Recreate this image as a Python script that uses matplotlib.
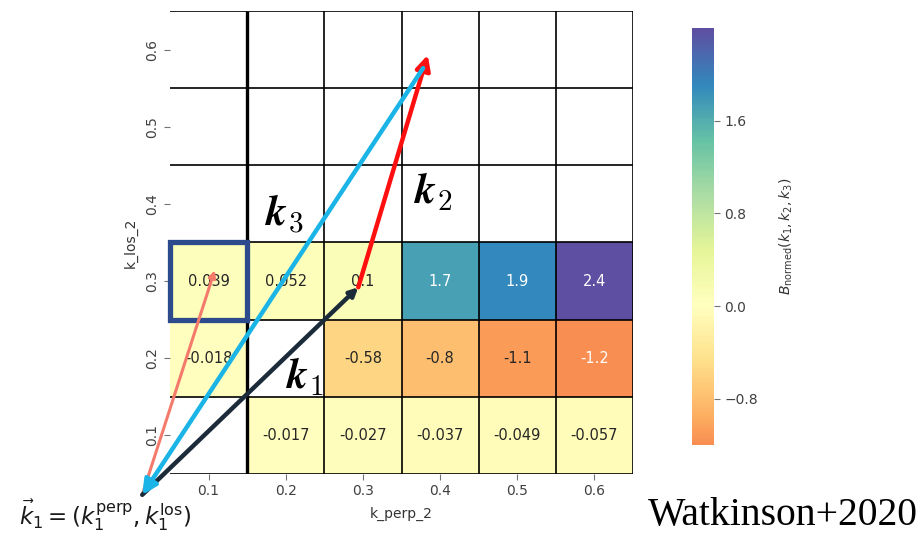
import numpy as np
import matplotlib
matplotlib.use("Agg")
from matplotlib import pyplot as plt
from matplotlib.colors import ListedColormap, Normalize
from matplotlib.patches import Rectangle

# bins of the second wavevector
k_perp_2 = [0.1, 0.2, 0.3, 0.4, 0.5, 0.6]
k_los_2 = [0.1, 0.2, 0.3, 0.4, 0.5, 0.6]

# normalised bispectrum, one row per k_los_2 bin (bottom to top)
row_los_01 = [np.nan, -0.017, -0.027, -0.037, -0.049, -0.057]
row_los_02 = [-0.018, np.nan, -0.58, -0.8, -1.1, -1.2]
row_los_03 = [0.039, 0.052, 0.1, 1.7, 1.9, 2.4]
row_los_04 = [np.nan] * 6
row_los_05 = [np.nan] * 6
row_los_06 = [np.nan] * 6

cbar_ticks = [-0.8, 0.0, 0.8, 1.6]

# sketch of the triangle k1 + k2 + k3 = 0
origine = (0.014, 0.023)
k1_ponta = (0.294, 0.292)
k2_ponta = (0.384, 0.593)
k3_fim = (0.378, 0.576)
k_aux_ponta = (0.108, 0.314)

B = np.ma.masked_invalid(np.array([row_los_01, row_los_02, row_los_03,
                                   row_los_04, row_los_05, row_los_06]))

passo = 0.1
x_bordas = np.append(np.array(k_perp_2) - passo / 2, k_perp_2[-1] + passo / 2)
y_bordas = np.append(np.array(k_los_2) - passo / 2, k_los_2[-1] + passo / 2)

# Spectral centred on zero, cut to the data range (like seaborn center=0)
vmin, vmax = B.min(), B.max()
vrange = max(abs(vmin), abs(vmax))
lo = 0.5 + vmin / (2 * vrange)
hi = 0.5 + vmax / (2 * vrange)
cmap = ListedColormap(plt.get_cmap("Spectral")(np.linspace(lo, hi, 256)))
cmap.set_bad("white")
norm = Normalize(vmin, vmax)


def luminancia(rgb):
    rgb = np.asarray(rgb[:3])
    c = np.where(rgb <= 0.03928, rgb / 12.92, ((rgb + 0.055) / 1.055) ** 2.4)
    return c.dot([0.2126, 0.7152, 0.0722])


fig = plt.figure(figsize=(9.22, 5.35), dpi=100)
ax = fig.add_axes([170 / 922, 1 - 474 / 535, 463 / 922, 463 / 535])
cax = fig.add_axes([692 / 922, 1 - 445 / 535, 22 / 922, 417 / 535])

malha = ax.pcolormesh(x_bordas, y_bordas, B, cmap=cmap, norm=norm)

# valores dentro das celulas
for i, yv in enumerate(k_los_2):
    for j, xv in enumerate(k_perp_2):
        v = B[i, j]
        if np.ma.is_masked(v):
            continue
        cor = "0.15" if luminancia(cmap(norm(v))) > 0.408 else "w"
        ax.text(xv, yv, f"{v:.2g}", ha="center", va="center",
                fontsize=10.5, color=cor)

# linhas da grade
ax.hlines(y_bordas, x_bordas[0], x_bordas[-1], color="black", lw=1.2)
ax.vlines(x_bordas[2:], y_bordas[0], y_bordas[-1], color="black", lw=1.2)
ax.vlines(x_bordas[1], y_bordas[0], y_bordas[-1], color="black", lw=2.4)

# celula destacada
ax.add_patch(Rectangle((x_bordas[0], y_bordas[2]), passo, passo, fill=False,
                       edgecolor="#2c4a8c", lw=3.8, clip_on=False, zorder=4))

ax.set_xlim(x_bordas[0], x_bordas[-1])
ax.set_ylim(y_bordas[0], y_bordas[-1])
ax.set_xticks(k_perp_2)
ax.set_xticklabels([str(k) for k in k_perp_2])
ax.set_yticks(k_los_2)
ax.set_yticklabels([str(k) for k in k_los_2], rotation=90, va="center")
ax.tick_params(color="0.45", labelcolor="0.25", labelsize=10, length=4)
for s in ax.spines.values():
    s.set_visible(False)
ax.set_xlabel("k_perp_2", fontsize=10, color="0.2", labelpad=6)
ax.set_ylabel("k_los_2", fontsize=10, color="0.2", labelpad=6)

# setas do triangulo
def seta(inicio, fim, cor, lw, escala):
    ax.annotate("", xy=fim, xytext=inicio, annotation_clip=False, zorder=5,
                arrowprops=dict(arrowstyle="-|>", color=cor, lw=lw,
                                mutation_scale=escala, shrinkA=0, shrinkB=0))


seta(origine, k_aux_ponta, "#f47a6c", 2.2, 10)
seta(origine, k1_ponta, "#1c2b3a", 3.2, 12)
seta(k1_ponta, k2_ponta, "#ff1010", 3.2, 22)
seta(k3_fim, origine, "#1ab4e6", 3.2, 22)

ax.text(0.199, 0.386, r"$\boldsymbol{k}_3$", fontsize=30, ha="center",
        va="center", math_fontfamily="cm")
ax.text(0.391, 0.415, r"$\boldsymbol{k}_2$", fontsize=30, ha="center",
        va="center", math_fontfamily="cm")
ax.text(0.225, 0.176, r"$\boldsymbol{k}_1$", fontsize=30, ha="center",
        va="center", math_fontfamily="cm")

fig.text(19 / 922, 1 - 515 / 535, r"$\vec{k}_1 = (k_1^{\rm perp}, k_1^{\rm los})$",
         fontsize=16.5, ha="left", va="center", color="0.1")
fig.text(918 / 922, 1 - 515 / 535, "Watkinson+2020", fontsize=28.5,
         family="Liberation Serif", ha="right", va="center")

cbar = fig.colorbar(malha, cax=cax, ticks=cbar_ticks)
cbar.outline.set_visible(False)
cbar.ax.tick_params(color="0.45", labelcolor="0.25", labelsize=10, length=4)
cbar.set_label(r"$B_{\rm normed}(k_1, k_2, k_3)$", fontsize=10, color="0.2",
               labelpad=14)

fig.savefig("out.png", dpi=100)
